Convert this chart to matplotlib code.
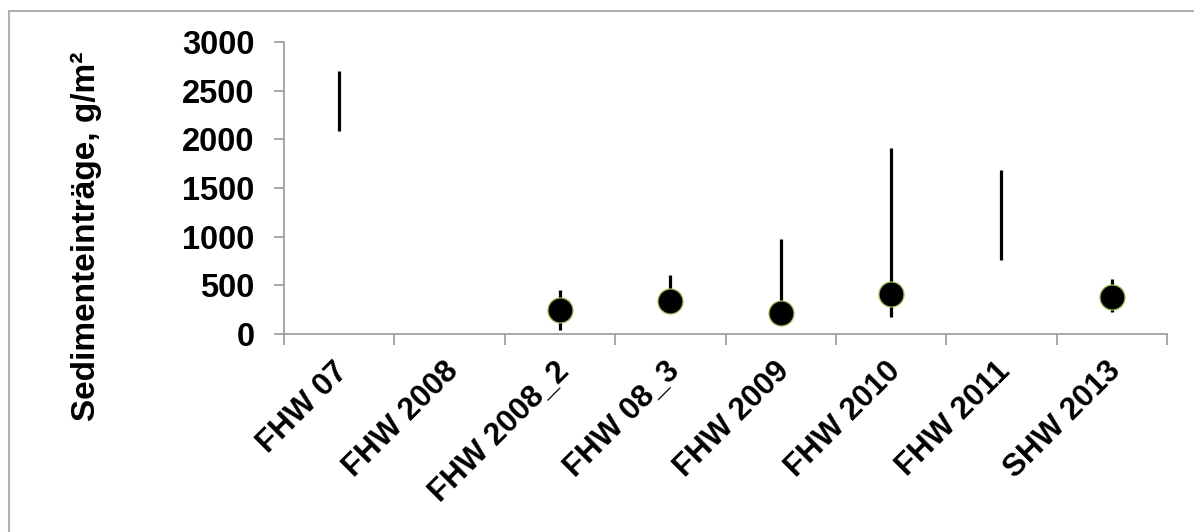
import numpy as np
import matplotlib
matplotlib.use("Agg")
import matplotlib.pyplot as plt
from matplotlib.patches import Rectangle
from matplotlib.transforms import ScaledTranslation

categories = ["FHW 07", "FHW 2008", "FHW 2008_2", "FHW 08_3", "FHW 2009",
              "FHW 2010", "FHW 2011", "SHW 2013"]
range_min = [2085, np.nan, 40, 240, 200, 175, 760, 225]
range_max = [2700, np.nan, 450, 605, 975, 1915, 1680, 565]
mean_vals = [np.nan, np.nan, 245, 342, 212, 410, np.nan, 383]
yticks = [0, 500, 1000, 1500, 2000, 2500, 3000]

plt.rcParams['font.family'] = ['Liberation Sans', 'DejaVu Sans']

fig = plt.figure(figsize=(11.94, 5.32), dpi=100)
ax = fig.add_axes([284/1194, 1-334/532, (1167-284)/1194, (334-42)/532])

x = np.arange(len(categories))
ax.vlines(x, range_min, range_max, colors='black', linewidth=2.3, zorder=2)
ax.plot(x, mean_vals, linestyle='none', marker='o', markersize=18,
        markerfacecolor='black', markeredgecolor='#9BBB59', markeredgewidth=0.9, zorder=3)

ax.set_xlim(-0.5, len(categories) - 0.5)
ax.set_ylim(0, 3000)
ax.set_yticks(yticks)
ax.set_yticklabels([str(v) for v in yticks], fontsize=23.5, fontweight='bold')

ax.set_xticks(np.arange(len(categories) + 1) - 0.5)
ax.set_xticklabels([])
ax.set_xticks(x, minor=True)
ax.set_xticklabels(categories, minor=True, rotation=45, ha='right',
                   rotation_mode='anchor', fontsize=22.5, fontweight='bold')
ax.tick_params(axis='x', which='minor', length=0, pad=16)
ax.tick_params(axis='x', which='major', length=8, color='#A0A0A0', width=1.3, direction='out')
ax.tick_params(axis='y', length=7, color='#A0A0A0', width=1.3, pad=14, direction='out')

offset = ScaledTranslation(-6/100, 0, fig.dpi_scale_trans)
for lab in ax.get_xticklabels(minor=True):
    lab.set_transform(lab.get_transform() + offset)

for s in ['top', 'right']:
    ax.spines[s].set_visible(False)
for s in ['left', 'bottom']:
    ax.spines[s].set_color('#A0A0A0')
    ax.spines[s].set_linewidth(1.3)

fig.text(86/1194, 1-236/532, "Sedimenteinträge, g/m²", rotation=90,
         ha='center', va='center', fontsize=24, fontweight='bold')

fig.patches.append(Rectangle((9/1194, -0.05), 1.1, 1-11/532+0.05, transform=fig.transFigure,
                             fill=False, edgecolor='#B0B0B0', linewidth=1.5))

fig.savefig("out.png", dpi=100)
